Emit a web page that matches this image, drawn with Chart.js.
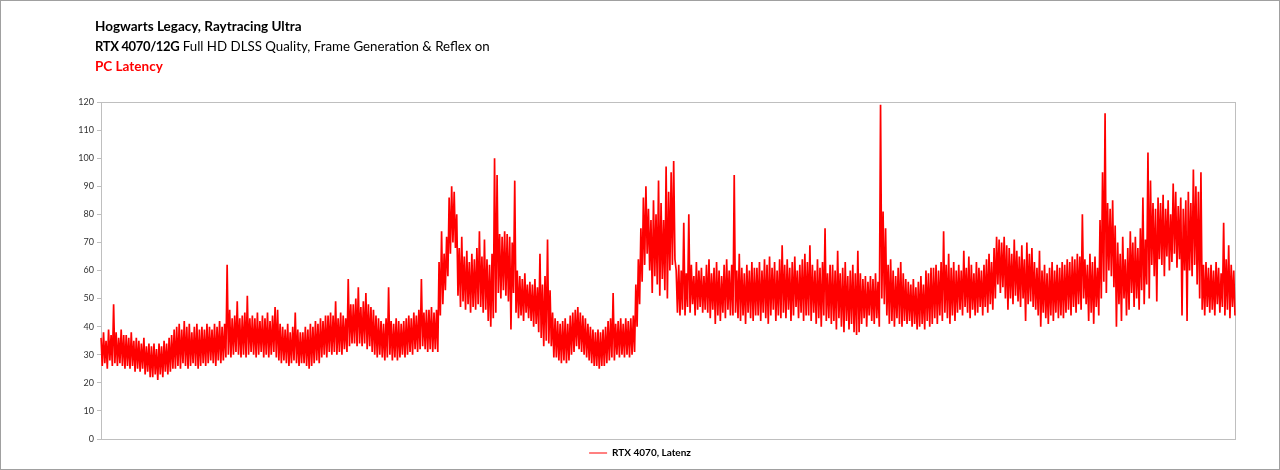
<!DOCTYPE html>
<html>
<head>
<meta charset="utf-8">
<script src="https://cdn.jsdelivr.net/npm/chart.js@4.4.1/dist/chart.umd.min.js"></script>
<style>
  html, body { margin: 0; padding: 0; background: #fff; }
  #wrap { position: relative; width: 1280px; height: 470px; }
  canvas { position: absolute; left: 0; top: 0; }
  .titel { position: absolute; left: 95px; font-family: Lato, "Noto Sans", sans-serif; font-size: 13.5px; line-height: 20px; white-space: nowrap; color: #000; }
  .titel b { font-weight: 700; }
  .eng { font-size: 13px; letter-spacing: -0.35px; }
  .duenn { font-size: 13.3px; }
  .rot { color: #ff0000; }
</style>
</head>
<body>
<div id="wrap">
  <canvas id="chart" width="1280" height="470"></canvas>
  <div class="titel" style="top:16px"><b>Hogwarts Legacy, Raytracing Ultra</b></div>
  <div class="titel" style="top:36px"><b class="eng">RTX 4070/12G</b><span class="duenn"> Full HD DLSS Quality, Frame Generation &amp; Reflex on</span></div>
  <div class="titel rot" style="top:56px"><b>PC Latency</b></div>
</div>
<script>
// Latenz in ms (Spitzen / Taeler im Wechsel)
const latenz = [
  36,26,38,27,35,25,39,28,37,26,48,27,38,26,36,27,39,26,37,25,
  37,26,36,25,38,26,35,24,36,25,35,24,34,25,36,23,33,24,34,22,
  33,22,34,23,32,21,34,23,33,22,35,24,34,23,36,24,37,25,39,25,
  40,26,41,25,39,27,42,26,40,25,41,26,38,27,40,26,41,25,39,26,
  40,27,39,26,41,27,40,28,39,27,41,26,40,28,42,27,40,28,41,29,
  62,30,46,29,43,30,44,31,49,30,43,29,44,30,45,29,51,30,43,31,
  44,30,43,29,45,30,42,31,44,29,43,30,45,29,42,30,44,31,47,29,
  46,28,41,27,40,28,39,27,41,26,38,27,40,28,45,27,39,26,38,27,
  38,27,40,26,39,25,41,26,40,27,42,28,41,27,43,29,42,30,44,29,
  44,31,45,30,44,31,49,30,43,31,45,30,44,32,43,31,57,33,48,34,
  48,34,50,33,54,34,47,33,49,34,52,32,48,33,47,31,46,30,44,29,
  43,30,42,29,41,28,43,29,54,30,42,28,41,29,43,28,42,29,41,30,
  42,29,43,30,44,31,43,30,45,32,44,31,46,32,57,33,45,32,46,31,
  46,32,47,31,45,32,46,31,63,44,74,48,66,53,72,58,86,66,90,70,
  88,68,80,51,68,47,72,49,65,46,67,48,63,45,66,47,64,46,68,48,
  74,47,65,45,71,46,64,42,62,40,66,43,100,45,94,52,73,50,72,53,
  74,51,73,49,72,39,70,52,92,45,60,43,58,44,57,42,59,45,55,43,
  56,42,55,40,57,41,54,38,66,36,55,33,58,35,71,34,53,33,45,29,
  43,29,42,28,41,27,42,28,43,27,41,28,44,30,45,31,46,33,47,32,
  45,31,44,30,43,29,41,28,40,27,39,26,38,26,39,25,38,26,39,26,
  40,27,42,28,43,29,52,28,41,30,42,29,43,30,41,29,43,30,42,29,
  43,30,44,31,55,40,64,48,75,56,86,62,90,66,82,60,78,52,85,58,
  80,55,92,51,84,57,78,53,97,50,88,60,95,62,99,64,60,45,62,44,
  60,46,77,44,59,47,80,45,62,48,58,44,63,46,60,47,61,45,58,46,
  62,45,64,43,59,46,61,41,63,44,60,42,58,45,62,43,64,46,60,44,
  62,44,94,45,60,43,66,42,61,44,59,41,62,45,60,43,63,42,61,44,
  61,44,63,42,60,45,64,43,62,41,65,44,61,46,63,42,60,44,64,43,
  69,45,62,43,64,46,61,42,63,44,65,47,60,43,62,45,64,42,66,44,
  63,44,69,42,62,45,60,41,64,43,61,40,63,44,75,42,59,43,62,41,
  62,42,60,39,67,43,59,40,61,38,63,42,58,39,60,41,62,38,59,37,
  67,38,59,41,57,43,58,40,56,44,58,42,57,41,59,43,56,40,119,50,
  81,48,75,44,62,41,64,42,60,40,58,43,61,41,63,40,59,42,57,41,
  56,42,55,40,57,41,54,39,56,40,58,41,55,39,60,42,59,40,61,41,
  61,43,62,41,60,44,63,42,74,45,62,43,66,41,61,44,63,42,60,45,
  62,46,60,44,67,47,61,45,65,43,62,46,59,44,63,45,61,47,60,44,
  62,47,64,45,66,48,63,46,68,50,72,55,71,52,70,54,72,50,69,46,
  68,50,66,48,71,51,67,49,65,47,69,50,64,42,70,48,66,49,68,47,
  63,46,61,44,67,40,60,45,62,43,59,41,61,44,63,42,60,45,62,43,
  61,44,63,43,62,45,64,46,63,44,65,47,64,45,66,48,65,46,80,50,
  64,48,62,42,66,45,63,41,65,47,61,44,78,50,95,56,116,52,84,60,
  82,58,85,54,76,40,70,48,66,42,72,50,64,44,68,46,74,52,70,47,
  72,50,68,46,75,53,86,48,71,55,102,50,92,62,84,58,82,49,86,64,
  84,62,87,58,82,65,85,60,80,63,91,66,88,61,83,64,86,44,82,60,
  85,42,88,60,84,58,96,62,90,55,88,50,95,46,62,44,63,47,61,45,
  62,46,60,44,63,48,61,45,59,47,77,44,64,46,69,43,62,47,60,44
];

// Messpunkte (keine Beschriftung auf der X-Achse)
const messpunkte = latenz.map((_, i) => i + 1);

const yTicks = [0, 10, 20, 30, 40, 50, 60, 70, 80, 90, 100, 110, 120];

const serienName = "RTX 4070, Latenz";

// Rahmen um Plotbereich und ganzes Diagramm
const rahmen = {
  id: "rahmen",
  beforeDatasetsDraw(chart) {
    const { ctx, chartArea: a } = chart;
    ctx.save();
    ctx.strokeStyle = "#bfbfbf";
    ctx.lineWidth = 1;
    ctx.strokeRect(Math.round(a.left) + 0.5, Math.round(a.top) + 0.5,
      Math.round(a.right - a.left), Math.round(a.bottom - a.top));
    ctx.restore();
  },
  afterDraw(chart) {
    const ctx = chart.ctx;
    ctx.save();
    ctx.strokeStyle = "#a0a0a0";
    ctx.lineWidth = 1;
    ctx.strokeRect(0.5, 0.5, chart.width - 1, chart.height - 1);
    ctx.restore();
  }
};

new Chart(document.getElementById("chart").getContext("2d"), {
  type: "line",
  data: {
    labels: messpunkte,
    datasets: [{
      label: serienName,
      data: latenz,
      borderColor: "#ff0000",
      backgroundColor: "#ff0000",
      borderWidth: 1.7,
      pointRadius: 0,
      tension: 0,
      fill: false
    }]
  },
  options: {
    responsive: false,
    animation: false,
    layout: { padding: { top: 102, right: 45, bottom: 2, left: 45 } },
    plugins: {
      legend: {
        position: "bottom",
        labels: {
          font: { family: "Lato", size: 10, weight: "bold" },
          color: "#000",
          boxWidth: 18,
          boxHeight: 2,
          padding: 6,
          generateLabels: (c) => Chart.defaults.plugins.legend.labels.generateLabels(c)
            .map(l => ({ ...l, fillStyle: "#ff8080", strokeStyle: "#ff8080", lineWidth: 0 }))
        }
      },
      tooltip: { enabled: false }
    },
    scales: {
      x: {
        ticks: { display: false },
        grid: { display: false },
        border: { display: false },
        afterFit: (s) => { s.height = 3; }
      },
      y: {
        min: 0,
        max: 120,
        afterBuildTicks: (s) => { s.ticks = yTicks.map(v => ({ value: v })); },
        ticks: { font: { family: "Lato", size: 9 }, color: "#333", padding: 3 },
        grid: { drawOnChartArea: false, tickLength: 4, color: "#bfbfbf" },
        border: { color: "#bfbfbf" },
        afterFit: (s) => { s.width = 56; }
      }
    }
  },
  plugins: [rahmen]
});
</script>
</body>
</html>
